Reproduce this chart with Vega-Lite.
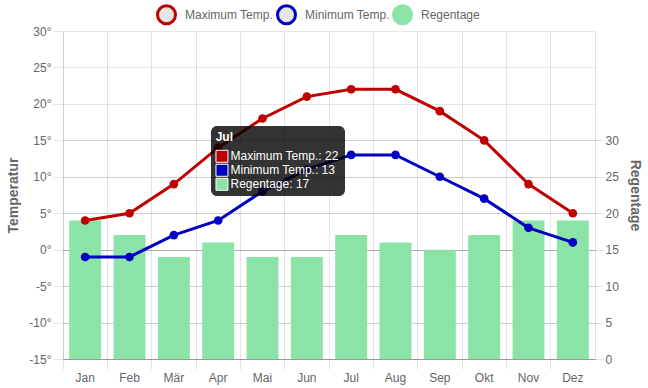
{
  "$schema": "https://vega.github.io/schema/vega-lite/v6.json",
  "width": 532,
  "height": 328,
  "autosize": {"type": "none"},
  "padding": {"left": 63, "top": 31, "right": 53, "bottom": 29},
  "background": "#ffffff",
  "config": {
    "view": {"stroke": null},
    "font": "Liberation Sans",
    "axis": {"labelFont": "Liberation Sans", "labelFontSize": 12, "labelColor": "#666666", "titleFont": "Liberation Sans", "titleFontSize": 14, "titleFontWeight": "bold", "titleColor": "#666666"},
    "legend": {"labelFont": "Liberation Sans", "labelFontSize": 12, "labelColor": "#666666", "padding": 0}
  },
  "datasets": {
    "temps": [
      {"Monat": "Jan", "Serie": "Maximum Temp.", "Wert": 4},
      {"Monat": "Feb", "Serie": "Maximum Temp.", "Wert": 5},
      {"Monat": "Mär", "Serie": "Maximum Temp.", "Wert": 9},
      {"Monat": "Apr", "Serie": "Maximum Temp.", "Wert": 14},
      {"Monat": "Mai", "Serie": "Maximum Temp.", "Wert": 18},
      {"Monat": "Jun", "Serie": "Maximum Temp.", "Wert": 21},
      {"Monat": "Jul", "Serie": "Maximum Temp.", "Wert": 22},
      {"Monat": "Aug", "Serie": "Maximum Temp.", "Wert": 22},
      {"Monat": "Sep", "Serie": "Maximum Temp.", "Wert": 19},
      {"Monat": "Okt", "Serie": "Maximum Temp.", "Wert": 15},
      {"Monat": "Nov", "Serie": "Maximum Temp.", "Wert": 9},
      {"Monat": "Dez", "Serie": "Maximum Temp.", "Wert": 5},
      {"Monat": "Jan", "Serie": "Minimum Temp.", "Wert": -1},
      {"Monat": "Feb", "Serie": "Minimum Temp.", "Wert": -1},
      {"Monat": "Mär", "Serie": "Minimum Temp.", "Wert": 2},
      {"Monat": "Apr", "Serie": "Minimum Temp.", "Wert": 4},
      {"Monat": "Mai", "Serie": "Minimum Temp.", "Wert": 8},
      {"Monat": "Jun", "Serie": "Minimum Temp.", "Wert": 11},
      {"Monat": "Jul", "Serie": "Minimum Temp.", "Wert": 13},
      {"Monat": "Aug", "Serie": "Minimum Temp.", "Wert": 13},
      {"Monat": "Sep", "Serie": "Minimum Temp.", "Wert": 10},
      {"Monat": "Okt", "Serie": "Minimum Temp.", "Wert": 7},
      {"Monat": "Nov", "Serie": "Minimum Temp.", "Wert": 3},
      {"Monat": "Dez", "Serie": "Minimum Temp.", "Wert": 1}
    ],
    "regen": [
      {"Monat": "Jan", "Regentage": 19},
      {"Monat": "Feb", "Regentage": 17},
      {"Monat": "Mär", "Regentage": 14},
      {"Monat": "Apr", "Regentage": 16},
      {"Monat": "Mai", "Regentage": 14},
      {"Monat": "Jun", "Regentage": 14},
      {"Monat": "Jul", "Regentage": 17},
      {"Monat": "Aug", "Regentage": 16},
      {"Monat": "Sep", "Regentage": 15},
      {"Monat": "Okt", "Regentage": 17},
      {"Monat": "Nov", "Regentage": 19},
      {"Monat": "Dez", "Regentage": 19}
    ]
  },
  "layer": [
    {
      "layer": [
        {
          "data": {"name": "regen"},
          "mark": {"type": "bar", "width": {"band": 0.72}, "color": "#8be3a7"},
          "encoding": {
            "x": {"field": "Monat", "type": "nominal", "sort": null,
              "scale": {"type": "band", "paddingInner": 0, "paddingOuter": 0},
              "axis": {"title": null, "orient": "bottom", "bandPosition": 0, "labelAngle": 0, "labelPadding": 3,
                "grid": true, "gridColor": "rgba(0,0,0,0.1)", "tickColor": "rgba(0,0,0,0.1)", "tickSize": 10,
                "domainColor": "rgba(0,0,0,0.1)"}},
            "y": {"field": "Regentage", "type": "quantitative",
              "scale": {"domain": [0, 45], "nice": false, "zero": true},
              "axis": {"orient": "right", "title": "Regentage", "values": [0, 5, 10, 15, 20, 25, 30],
                "grid": true, "gridColor": {"condition": {"test": "datum.value === 0", "value": "rgba(0,0,0,0.25)"}, "value": "rgba(0,0,0,0.1)"},
                "tickColor": "rgba(0,0,0,0.1)", "tickSize": 8, "labelPadding": 2, "domainColor": "rgba(0,0,0,0.1)", "titlePadding": 9}}
          }
        },
        {
          "data": {"name": "temps"},
          "mark": {"type": "line", "strokeWidth": 3},
          "encoding": {
            "x": {"field": "Monat", "type": "nominal", "sort": null,
              "scale": {"type": "band", "paddingInner": 0, "paddingOuter": 0}},
            "y": {"field": "Wert", "type": "quantitative",
              "scale": {"domain": [-15, 30], "nice": false, "zero": false},
              "axis": {"orient": "left", "title": "Temperatur", "values": [-15, -10, -5, 0, 5, 10, 15, 20, 25, 30],
                "labelExpr": "datum.value + '°'",
                "grid": true, "gridColor": {"condition": {"test": "datum.value === 0", "value": "rgba(0,0,0,0.25)"}, "value": "rgba(0,0,0,0.1)"},
                "tickColor": "rgba(0,0,0,0.1)", "tickSize": 10, "labelPadding": 2, "domainColor": "rgba(0,0,0,0.1)", "titlePadding": 8}},
            "color": {"field": "Serie", "type": "nominal",
              "scale": {"domain": ["Maximum Temp.", "Minimum Temp.", "Regentage"], "range": ["#c00000", "#0000c0", "#8be3a7"]},
              "legend": {"title": null, "orient": "none", "direction": "horizontal", "legendX": 93, "legendY": -27,
                "symbolType": "circle", "symbolSize": 324, "symbolStrokeWidth": 3, "labelOffset": 8, "columnPadding": -3,
                "encode": {"symbols": {"update": {
                  "fill": {"signal": "datum.value === 'Regentage' ? '#8be3a7' : '#e6e6e6'"},
                  "opacity": {"value": 1}, "fillOpacity": {"value": 1}, "strokeOpacity": {"value": 1}, "strokeWidth": {"value": 3}}}}}}
          }
        },
        {
          "data": {"name": "temps"},
          "mark": {"type": "point", "filled": true, "size": 75, "opacity": 1},
          "encoding": {
            "x": {"field": "Monat", "type": "nominal", "sort": null,
              "scale": {"type": "band", "paddingInner": 0, "paddingOuter": 0}},
            "y": {"field": "Wert", "type": "quantitative",
              "scale": {"domain": [-15, 30], "nice": false, "zero": false}, "axis": null},
            "fill": {"field": "Serie", "type": "nominal",
              "scale": {"domain": ["Maximum Temp.", "Minimum Temp."], "range": ["#c00000", "#0000c0"]}, "legend": null}
          }
        }
      ],
      "resolve": {"scale": {"y": "independent"}}
    },
    {
      "data": {"values": [{}]},
      "layer": [
        {
          "mark": {"type": "rect", "fill": "#000000", "fillOpacity": 0.8, "cornerRadius": 6},
          "encoding": {
            "x": {"datum": 3.338, "type": "quantitative", "scale": {"domain": [0, 12], "nice": false, "zero": false}, "axis": null},
            "x2": {"datum": 6.361},
            "y": {"datum": 16.97, "type": "quantitative", "scale": {"domain": [-15, 30], "nice": false, "zero": false}, "axis": null},
            "y2": {"datum": 7.36}
          }
        },
        {
          "mark": {"type": "text", "text": "Jul", "align": "left", "baseline": "middle", "fontWeight": "bold", "fontSize": 12, "color": "#ffffff"},
          "encoding": {"x": {"datum": 3.444, "type": "quantitative"}, "y": {"datum": 15.5, "type": "quantitative"}}
        },
        {
          "mark": {"type": "point", "shape": "square", "filled": true, "size": 144, "color": "#c00000", "stroke": "#ffffff", "strokeWidth": 1, "opacity": 1},
          "encoding": {"x": {"datum": 3.586, "type": "quantitative"}, "y": {"datum": 12.81, "type": "quantitative"}}
        },
        {
          "mark": {"type": "point", "shape": "square", "filled": true, "size": 144, "color": "#0000c0", "stroke": "#ffffff", "strokeWidth": 1, "opacity": 1},
          "encoding": {"x": {"datum": 3.586, "type": "quantitative"}, "y": {"datum": 10.89, "type": "quantitative"}}
        },
        {
          "mark": {"type": "point", "shape": "square", "filled": true, "size": 144, "color": "#8be3a7", "stroke": "#ffffff", "strokeWidth": 1, "opacity": 1},
          "encoding": {"x": {"datum": 3.586, "type": "quantitative"}, "y": {"datum": 8.97, "type": "quantitative"}}
        },
        {
          "mark": {"type": "text", "text": "Maximum Temp.: 22", "align": "left", "baseline": "middle", "fontSize": 12, "color": "#ffffff"},
          "encoding": {"x": {"datum": 3.778, "type": "quantitative"}, "y": {"datum": 12.81, "type": "quantitative"}}
        },
        {
          "mark": {"type": "text", "text": "Minimum Temp.: 13", "align": "left", "baseline": "middle", "fontSize": 12, "color": "#ffffff"},
          "encoding": {"x": {"datum": 3.778, "type": "quantitative"}, "y": {"datum": 10.89, "type": "quantitative"}}
        },
        {
          "mark": {"type": "text", "text": "Regentage: 17", "align": "left", "baseline": "middle", "fontSize": 12, "color": "#ffffff"},
          "encoding": {"x": {"datum": 3.778, "type": "quantitative"}, "y": {"datum": 8.97, "type": "quantitative"}}
        }
      ]
    }
  ],
  "resolve": {"scale": {"x": "independent", "y": "independent"}}
}
